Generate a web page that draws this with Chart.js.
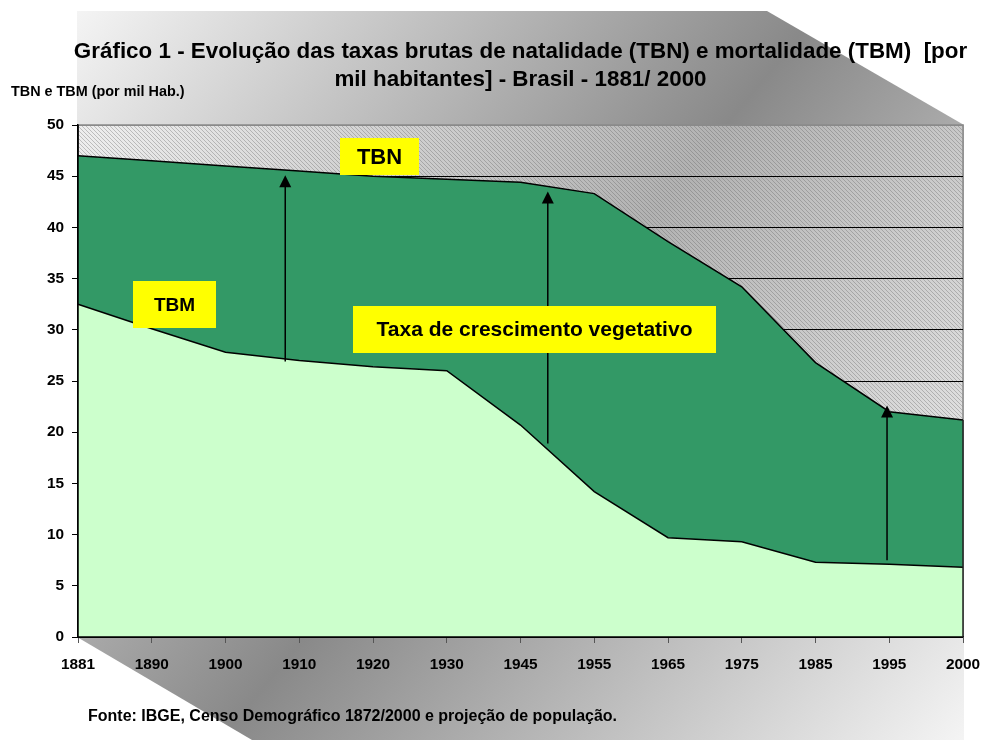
<!DOCTYPE html>
<html><head><meta charset="utf-8">
<script src="https://cdn.jsdelivr.net/npm/chart.js@4.4.0/dist/chart.umd.min.js"></script>
<style>html,body{margin:0;padding:0;background:#fff}#wrap{width:982px;height:740px;position:relative}</style>
</head><body><div id="wrap"><canvas id="c" width="982" height="740"></canvas></div>
<script>
// ---- data ----
const categories = ['1881','1890','1900','1910','1920','1930','1945','1955','1965','1975','1985','1995','2000'];
const tbn = [47.0, 46.5, 46.0, 45.5, 45.0, 44.7, 44.4, 43.3, 38.6, 34.2, 26.8, 22.0, 21.2];
const tbm = [32.5, 30.1, 27.8, 27.0, 26.4, 26.0, 20.7, 14.2, 9.7, 9.3, 7.3, 7.1, 6.8];
const yMin = 0, yMax = 50, yStep = 5;
const titleLines = ['Gráfico 1 - Evolução das taxas brutas de natalidade (TBN) e mortalidade (TBM)  [por', 'mil habitantes] - Brasil - 1881/ 2000'];
const yAxisTitle = 'TBN e TBM (por mil Hab.)';
const sourceNote = 'Fonte: IBGE, Censo Demográfico 1872/2000 e projeção de população.';
// arrows: x as category index, from/to in data units
const arrows = [
  {x: 2.81, from: 26.9, to: 45.1},
  {x: 6.37, from: 18.9, to: 43.5},
  {x: 10.97, from: 7.5, to: 22.6}
];
// label boxes (pixel layout)
const labelBoxes = [
  {text: 'TBN', x: 340, y: 138, w: 79, h: 37, size: 22},
  {text: 'TBM', x: 133, y: 281, w: 83, h: 47, size: 19},
  {text: 'Taxa de crescimento vegetativo', x: 353, y: 306, w: 363, h: 47, size: 21}
];

const FONT = 'Arial, "Liberation Sans", sans-serif';

function makeHatch() {
  const t = document.createElement('canvas');
  t.width = 4; t.height = 4;
  const c = t.getContext('2d');
  c.fillStyle = 'rgba(255,255,255,0.35)';
  c.fillRect(0,0,4,4);
  c.fillStyle = 'rgba(90,90,90,0.33)';
  for (let i = 0; i < 4; i++) c.fillRect(i, i, 1, 1);
  return t;
}

const decor = {
  id: 'decor',
  beforeDraw(chart) {
    const ctx = chart.ctx, ca = chart.chartArea;
    ctx.save();
    ctx.fillStyle = '#fff';
    ctx.fillRect(0,0,chart.width,chart.height);
    // gradient hexagon
    const g = ctx.createLinearGradient(77, 11, 963, 740);
    g.addColorStop(0, '#f4f4f4');
    g.addColorStop(0.5, '#898989');
    g.addColorStop(1, '#f4f4f4');
    ctx.fillStyle = g;
    ctx.beginPath();
    ctx.moveTo(77, 11); ctx.lineTo(767, 11); ctx.lineTo(ca.right + 1, ca.top);
    ctx.lineTo(ca.right + 1, 740); ctx.lineTo(252, 740); ctx.lineTo(77, ca.bottom);
    ctx.closePath(); ctx.fill();
    // hatched plot area
    ctx.fillStyle = ctx.createPattern(makeHatch(), 'repeat');
    ctx.fillRect(ca.left, ca.top, ca.right - ca.left, ca.bottom - ca.top);
    // plot border right/top
    ctx.strokeStyle = '#8a8a8a'; ctx.lineWidth = 1.5;
    ctx.beginPath(); ctx.moveTo(ca.left, ca.top); ctx.lineTo(ca.right, ca.top); ctx.lineTo(ca.right, ca.bottom); ctx.stroke();
    ctx.restore();
  },
  afterDatasetsDraw(chart) {
    const ctx = chart.ctx, ca = chart.chartArea;
    const xs = chart.scales.x, ys = chart.scales.y;
    ctx.save();
    // axes redraw
    ctx.strokeStyle = '#000'; ctx.lineWidth = 1.5;
    ctx.beginPath(); ctx.moveTo(ca.left, ca.top); ctx.lineTo(ca.left, ca.bottom); ctx.lineTo(ca.right, ca.bottom); ctx.stroke();
    ctx.strokeStyle = '#222'; ctx.lineWidth = 1.5;
    ctx.beginPath(); ctx.moveTo(ca.right, ys.getPixelForValue(tbn[tbn.length-1])); ctx.lineTo(ca.right, ca.bottom); ctx.stroke();
    // arrows
    ctx.fillStyle = '#000'; ctx.strokeStyle = '#000'; ctx.lineWidth = 1.5;
    arrows.forEach(a => {
      const x = xs.getPixelForValue(a.x);
      const y0 = ys.getPixelForValue(a.from), y1 = ys.getPixelForValue(a.to);
      ctx.beginPath(); ctx.moveTo(x, y0); ctx.lineTo(x, y1 + 10); ctx.stroke();
      ctx.beginPath(); ctx.moveTo(x, y1); ctx.lineTo(x - 6, y1 + 12); ctx.lineTo(x + 6, y1 + 12); ctx.closePath(); ctx.fill();
    });
    // yellow label boxes
    labelBoxes.forEach(b => {
      ctx.fillStyle = '#FFFF00';
      ctx.fillRect(b.x, b.y, b.w, b.h);
      ctx.fillStyle = '#000';
      ctx.font = 'bold ' + b.size + 'px ' + FONT;
      ctx.textAlign = 'center'; ctx.textBaseline = 'middle';
      ctx.fillText(b.text, b.x + b.w / 2, b.y + b.h / 2 + 1);
    });
    ctx.restore();
  },
  afterDraw(chart) {
    const ctx = chart.ctx, ca = chart.chartArea;
    ctx.save();
    ctx.fillStyle = '#000';
    ctx.textBaseline = 'middle';
    ctx.font = 'bold 22.4px ' + FONT;
    ctx.textAlign = 'center';
    const cx = (ca.left + ca.right) / 2;
    ctx.fillText(titleLines[0], cx, 52);
    ctx.fillText(titleLines[1], cx, 80);
    ctx.textAlign = 'left';
    ctx.font = 'bold 14.4px ' + FONT;
    ctx.fillText(yAxisTitle, 11, 92);
    ctx.font = 'bold 16px ' + FONT;
    ctx.fillText(sourceNote, 88, 717);
    ctx.restore();
  }
};

const tickFont = {family: FONT, size: 15.4, weight: 'bold'};

new Chart(document.getElementById('c').getContext('2d'), {
  type: 'line',
  data: {
    labels: categories,
    datasets: [
      {label: 'TBM', data: tbm, fill: 'origin', backgroundColor: '#CCFFCC', borderColor: '#000', borderWidth: 1.5, pointRadius: 0, tension: 0},
      {label: 'TBN', data: tbn, fill: '-1', backgroundColor: '#339966', borderColor: '#000', borderWidth: 1.5, pointRadius: 0, tension: 0}
    ]
  },
  options: {
    responsive: false, animation: false,
    layout: {padding: {top: 125, right: 19, bottom: 63, left: 0}},
    plugins: {legend: {display: false}, tooltip: {enabled: false}, title: {display: false}},
    scales: {
      x: {
        offset: false,
        grid: {display: true, drawOnChartArea: false, drawTicks: true, tickLength: 6, color: '#555', lineWidth: 1},
        border: {color: '#000', width: 1.5},
        ticks: {font: tickFont, color: '#000', padding: 13, maxRotation: 0, autoSkip: false},
        afterFit: s => { s.height = 40; s.paddingLeft = 0; s.paddingRight = 0; }
      },
      y: {
        min: yMin, max: yMax,
        ticks: {stepSize: yStep, font: tickFont, color: '#000', padding: 8},
        grid: {color: c => (c.tick && c.tick.value === yMax) ? '#8a8a8a' : '#000', lineWidth: 1, tickLength: 6, tickColor: '#000'},
        border: {color: '#000', width: 1.5},
        afterFit: s => { s.width = 78; s.paddingTop = 0; s.paddingBottom = 0; }
      }
    }
  },
  plugins: [decor]
});
</script>
</body></html>
